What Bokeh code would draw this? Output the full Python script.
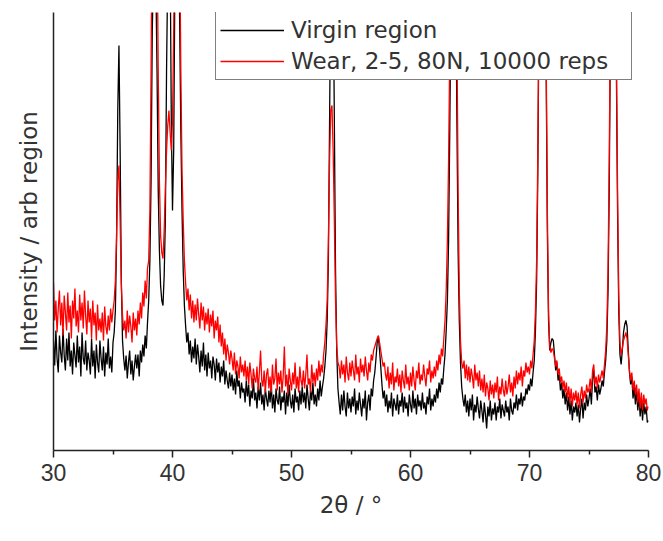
from bokeh.plotting import figure
from bokeh.models import Range1d, Legend, LegendItem, FixedTicker
from bokeh.embed import file_html
from bokeh.resources import INLINE

# 2-theta grid, 0.1 degree steps from 30 to 80
two_theta = [round(30 + i * 0.1, 1) for i in range(501)]

# Virgin region (black), intensity in arbitrary units, one row per degree
virgin = [
    110, 85, 120, 92, 78, 115, 98, 88, 122, 95,
    80, 112, 90, 118, 84, 100, 76, 108, 95, 83,
    115, 88, 104, 74, 118, 92, 86, 110, 80, 98,
    90, 76, 112, 84, 100, 72, 106, 88, 78, 110,
    92, 80, 104, 74, 98, 86, 112, 82, 94, 78,
    108, 118, 140, 210, 340, 405, 300, 170, 110, 92,
    80, 95, 72, 88, 100, 76, 90, 70, 84, 96,
    82, 96, 74, 100, 88, 106, 94, 115, 102, 128,
    150, 190, 270, 420, 480, 500, 470, 380, 260, 200,
    165, 150, 145, 175, 230, 380, 480, 520, 500, 330,
    240, 300, 470, 540, 560, 520, 430, 320, 240, 180,
    145, 125, 108, 118, 96, 110, 88, 104, 92, 112,
    86, 106, 94, 78, 100, 84, 108, 80, 96, 74,
    98, 82, 90, 72, 94, 86, 70, 92, 78, 88,
    68, 84, 74, 90, 66, 80, 70, 62, 78, 64,
    76, 60, 72, 56, 80, 64, 70, 52, 68, 58,
    62, 48, 70, 54, 66, 44, 60, 52, 72, 50,
    58, 42, 64, 50, 68, 46, 56, 40, 62, 52,
    44, 60, 48, 66, 42, 56, 38, 62, 50, 46,
    64, 40, 54, 48, 60, 36, 58, 44, 66, 50,
    42, 56, 38, 62, 48, 54, 40, 60, 46, 64,
    48, 58, 42, 66, 52, 40, 60, 50, 68, 46,
    56, 44, 62, 50, 70, 54, 64, 72, 84, 100,
    130, 190, 330, 470, 520, 480, 330, 180, 100, 62,
    48, 36, 56, 40, 60, 44, 34, 58, 42, 52,
    38, 54, 44, 62, 36, 50, 40, 58, 46, 34,
    52, 42, 60, 30, 48, 56, 40, 62, 54, 70,
    78, 92, 108, 114, 100, 84, 66, 52, 60, 44,
    56, 38, 50, 42, 58, 34, 52, 46, 40, 56,
    36, 50, 44, 58, 38, 54, 42, 48, 34, 56,
    46, 38, 60, 42, 52, 36, 56, 44, 50, 40,
    58, 42, 48, 36, 54, 46, 62, 40, 52, 44,
    56, 48, 62, 52, 68, 58, 72, 66, 82, 96,
    120, 150, 210, 320, 450, 530, 560, 540, 470, 330,
    200, 130, 88, 64, 52, 44, 56, 38, 50, 34,
    52, 40, 56, 30, 46, 38, 54, 42, 32, 50,
    40, 28, 48, 36, 22, 44, 34, 50, 30, 42,
    36, 48, 30, 44, 38, 52, 32, 46, 40, 34,
    50, 38, 44, 30, 52, 40, 36, 48, 42, 56,
    40, 52, 46, 58, 44, 54, 50, 62, 56, 66,
    60, 72, 64, 78, 90, 120, 170, 280, 440, 540,
    580, 600, 590, 520, 380, 220, 130, 100, 108, 112,
    110, 96, 80, 88, 70, 76, 60, 68, 52, 62,
    46, 58, 40, 54, 36, 50, 30, 44, 38, 48,
    34, 46, 28, 42, 52, 32, 48, 40, 56, 44,
    52, 62, 46, 72, 80, 58, 64, 50, 66, 56,
    62, 70, 64, 78, 90, 110, 160, 260, 420, 540,
    600, 590, 520, 380, 240, 140, 96, 86, 100, 118,
    126, 130, 124, 100, 78, 66, 74, 52, 64, 46,
    60, 40, 54, 34, 50, 30, 48, 36, 44, 28,
    30,
]

# Wear, 2-5, 80N, 10000 reps (red)
wear = [
    168, 130, 150, 118, 142, 160, 125, 148, 115, 155,
    138, 120, 158, 128, 145, 112, 150, 132, 162, 124,
    140, 118, 156, 130, 148, 122, 160, 135, 116, 150,
    128, 142, 112, 150, 125, 138, 110, 146, 120, 132,
    118, 138, 110, 144, 124, 116, 135, 120, 142, 128,
    140, 150, 170, 215, 270, 285, 230, 165, 135, 120,
    130, 112, 140, 118, 135, 124, 108, 138, 120, 132,
    115, 140, 126, 148, 132, 158, 144, 170, 152, 182,
    190, 240, 380, 560, 680, 700, 650, 520, 380, 270,
    215, 198, 192, 220, 262, 300, 325, 340, 318, 300,
    330, 420, 560, 680, 720, 650, 520, 380, 280, 230,
    190, 168, 150, 162, 140, 156, 132, 150, 128, 146,
    130, 152, 136, 122, 148, 130, 144, 120, 138, 126,
    142, 118, 136, 124, 140, 112, 130, 120, 134, 108,
    126, 104, 118, 96, 112, 90, 106, 98, 86, 100,
    92, 80, 98, 76, 90, 84, 72, 94, 78, 86,
    74, 90, 70, 84, 66, 88, 76, 62, 82, 72,
    68, 84, 60, 78, 100, 70, 64, 80, 58, 76,
    82, 62, 74, 58, 86, 66, 72, 92, 60, 78,
    66, 80, 58, 74, 104, 64, 76, 56, 82, 70,
    60, 78, 66, 88, 62, 74, 58, 84, 70, 64,
    80, 62, 76, 96, 66, 72, 58, 86, 68, 78,
    64, 82, 70, 90, 74, 86, 78, 96, 108, 126,
    150, 210, 290, 340, 345, 300, 230, 150, 105, 88,
    84, 72, 90, 76, 86, 68, 94, 78, 70, 88,
    74, 90, 80, 70, 96, 76, 84, 68, 92, 78,
    86, 74, 94, 80, 70, 88, 78, 96, 90, 100,
    104, 108, 112, 115, 108, 100, 92, 84, 88, 76,
    70, 84, 62, 78, 66, 88, 60, 74, 68, 82,
    64, 76, 58, 80, 70, 62, 86, 66, 74, 60,
    78, 64, 84, 70, 60, 80, 72, 88, 66, 76,
    70, 86, 74, 64, 82, 76, 90, 68, 80, 72,
    84, 74, 90, 80, 96, 86, 102, 94, 112, 130,
    160, 210, 290, 400, 520, 620, 680, 660, 580, 420,
    260, 160, 110, 88, 82, 90, 72, 86, 70, 84,
    68, 82, 74, 62, 86, 70, 78, 64, 80, 60,
    72, 58, 76, 54, 68, 62, 50, 70, 56, 66,
    52, 68, 58, 74, 50, 64, 56, 72, 60, 54,
    70, 56, 64, 76, 58, 68, 54, 74, 62, 80,
    66, 78, 70, 84, 64, 80, 74, 88, 78, 84,
    76, 90, 82, 96, 110, 140, 190, 300, 450, 560,
    620, 640, 620, 540, 400, 240, 140, 104, 98, 102,
    100, 92, 84, 90, 76, 82, 68, 74, 62, 70,
    58, 68, 52, 64, 48, 62, 44, 58, 50, 60,
    46, 58, 42, 56, 64, 48, 60, 52, 66, 58,
    62, 72, 58, 80, 86, 66, 74, 62, 76, 68,
    74, 80, 72, 86, 100, 125, 180, 290, 440, 560,
    620, 610, 540, 400, 260, 155, 108, 96, 102, 110,
    114, 118, 112, 96, 80, 70, 78, 60, 70, 56,
    66, 48, 62, 42, 58, 40, 56, 46, 52, 40,
    44,
]

x_major_ticks = [30, 40, 50, 60, 70, 80]
x_minor_ticks = [35, 45, 55, 65, 75]
series_labels = ["Virgin region", "Wear, 2-5, 80N, 10000 reps"]

p = figure(width=663, height=541, output_backend="svg", toolbar_location=None,
           x_range=Range1d(30, 80), y_range=Range1d(0, 438),
           min_border_left=53, min_border_right=15,
           min_border_top=12, min_border_bottom=91)
p.background_fill_color = "white"
p.border_fill_color = "white"
p.outline_line_color = None
p.grid.visible = False

r1 = p.line(two_theta, virgin, line_color="black", line_width=1.3)
r2 = p.line(two_theta, wear, line_color="#ff0000", line_width=1.3)

ax = p.xaxis[0]
ax.ticker = FixedTicker(ticks=x_major_ticks, minor_ticks=x_minor_ticks)
ax.axis_label = "2θ / °"
ax.axis_line_width = 1.5
ax.axis_line_color = "#222222"
ax.major_tick_line_color = "#222222"
ax.minor_tick_line_color = "#222222"
ax.major_tick_line_width = 1.5
ax.minor_tick_line_width = 1.5
ax.major_tick_in = 0
ax.major_tick_out = 7
ax.minor_tick_in = 0
ax.minor_tick_out = 4
ax.major_label_standoff = 6
ax.major_label_text_font = "Liberation Sans"
ax.major_label_text_font_size = "23px"
ax.major_label_text_color = "#333333"
ax.axis_label_standoff = 8
ax.axis_label_text_font = "DejaVu Sans"
ax.axis_label_text_font_size = "23px"
ax.axis_label_text_font_style = "normal"
ax.axis_label_text_color = "#333333"

ay = p.yaxis[0]
ay.ticker = FixedTicker(ticks=[])
ay.axis_label = "Intensity / arb region"
ay.axis_line_width = 1.5
ay.axis_line_color = "#222222"
ay.major_tick_in = 0
ay.major_tick_out = 0
ay.minor_tick_in = 0
ay.minor_tick_out = 0
ay.major_label_standoff = 0
ay.axis_label_standoff = 12
ay.axis_label_text_font = "DejaVu Sans"
ay.axis_label_text_font_size = "23px"
ay.axis_label_text_font_style = "normal"
ay.axis_label_text_color = "#333333"

legend = Legend(
    items=[LegendItem(label=series_labels[0], renderers=[r1]),
           LegendItem(label=series_labels[1], renderers=[r2])],
    location=(162, 370),
    label_text_font="DejaVu Sans",
    label_text_font_size="23px",
    label_text_color="#333333",
    glyph_width=64, glyph_height=28, label_height=28,
    label_standoff=7, spacing=3, padding=4, margin=0,
    label_width=336,
    border_line_color="black", border_line_width=1.5,
    background_fill_color="white", background_fill_alpha=1.0,
)
p.add_layout(legend)

open("out.html", "w").write(file_html(p, INLINE))
